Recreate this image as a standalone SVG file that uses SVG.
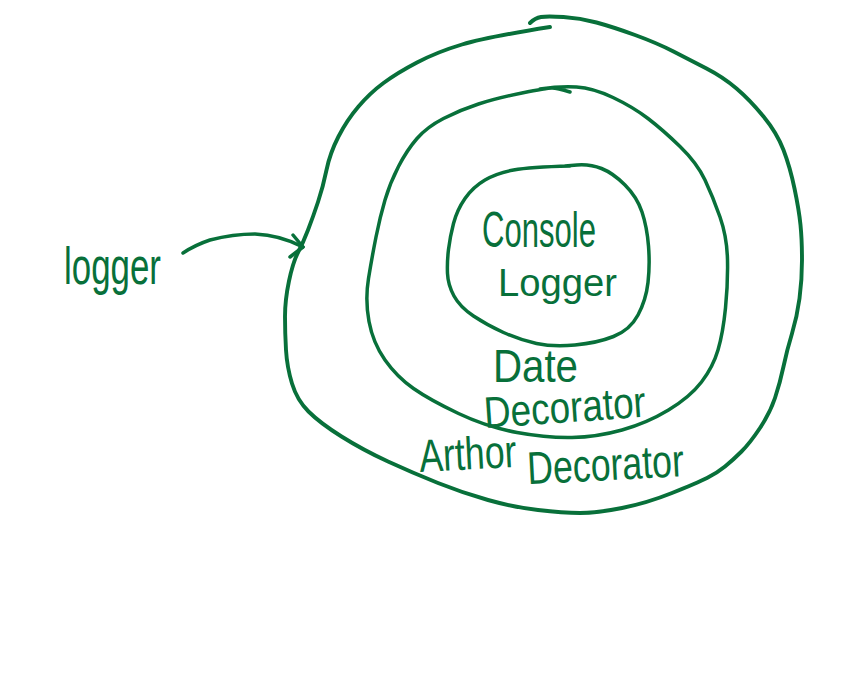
<svg xmlns="http://www.w3.org/2000/svg" width="860" height="675" viewBox="0 0 860 675">
<style>
.ink{fill:none;stroke:#08703a;stroke-width:3.5;stroke-linecap:round;stroke-linejoin:round}
.lbl{fill:#08703a;font-family:"Liberation Sans","DejaVu Sans",sans-serif;font-size:46px}
</style>
<rect width="860" height="675" fill="#ffffff"/>
<g id="author-decorator">
<path class="ink" style="stroke-width:3.9" d="M550,27 Q487,37 462,44.5 Q437,52 417,62.5 Q397,73 383.5,83 Q370,93 358.5,106.5 Q347,120 338.5,136.5 Q330,153 326.5,170 Q323,187 318,202 Q313,217 308,230 Q303,243 298,252.5 Q293,262 289,281 Q285,300 285,316.5 Q285,333 286,350 Q287,367 292,383.5 Q297,400 308.5,411.5 Q320,423 341.5,436.5 Q363,450 388,461.5 Q413,473 438,483 Q463,493 488,500 Q513,507 538,510 Q563,513 580,513 Q597,513 622,508 Q647,503 672,493 Q697,483 707,478 Q717,473 725,466.5 Q733,460 741.5,451.5 Q750,443 760,428 Q770,413 775,398 Q780,383 783.5,366.5 Q787,350 792,333.5 Q797,317 799.5,298.5 Q802,280 802,260 Q802,240 800.5,225 Q799,210 794.5,188.5 Q790,167 783.5,150 Q777,133 763.5,116.5 Q750,100 736.5,88.5 Q723,77 706.5,68.5 Q690,60 673.5,51.5 Q657,43 635,35 Q613,27 596.5,22.5 Q580,18 563.5,17 Q547,16 541,17 Q535,18 530,23"/>
<text class="lbl" x="420" y="472" textLength="264" lengthAdjust="spacingAndGlyphs" transform="rotate(-3 420 472)">Arthor <tspan dy="18">Decorator</tspan></text>
</g>
<g id="date-decorator">
<path class="ink" d="M570,92 Q557,88 552,88 Q547,88 522,93 Q497,98 478.5,104 Q460,110 443.5,118.5 Q427,127 417,138.5 Q407,150 398.5,166.5 Q390,183 385,200 Q380,217 376,237 Q372,257 368.5,278.5 Q365,300 369,321.5 Q373,343 385,360 Q397,377 413.5,388.5 Q430,400 458.5,413.5 Q487,427 517,432.5 Q547,438 572,437.5 Q597,437 622,430 Q647,423 668.5,410 Q690,397 701.5,382 Q713,367 718,350 Q723,333 725.5,308 Q728,283 727.5,260 Q727,237 720,217 Q713,197 705,180 Q697,163 680,146.5 Q663,130 648,118.5 Q633,107 613,97.5 Q593,88 576.5,87 Q560,86 540,89"/>
<text class="lbl" x="493" y="382" textLength="85" lengthAdjust="spacingAndGlyphs">Date</text>
<text class="lbl" x="485" y="428" textLength="162" lengthAdjust="spacingAndGlyphs" transform="rotate(-4 485 428)" style="font-size:44px">Decorator</text>
</g>
<g id="console-logger">
<path class="ink" d="M570,166 Q530,167 513.5,170 Q497,173 485,180 Q473,187 465,198.5 Q457,210 453.5,223.5 Q450,237 448.5,249.5 Q447,262 447.5,273.5 Q448,285 454,296 Q460,307 473.5,316 Q487,325 503.5,332.5 Q520,340 536.5,343.5 Q553,347 575,345 Q597,343 613.5,336.5 Q630,330 638,315 Q646,300 648,282.5 Q650,265 648.5,246 Q647,227 642,212 Q637,197 625,185 Q613,173 601.5,168.5 Q590,164 577,165 L565,166"/>
<text class="lbl" x="482" y="247" textLength="114" lengthAdjust="spacingAndGlyphs" style="font-size:50px">Console</text>
<text class="lbl" x="498" y="296" textLength="119" lengthAdjust="spacingAndGlyphs" style="font-size:39px">Logger</text>
</g>
<g id="logger">
<text class="lbl" x="64" y="284" textLength="97" lengthAdjust="spacingAndGlyphs" style="font-size:52px">logger</text>
</g>
<g id="connectors">
<path class="ink" d="M183,253 Q195,245 210,240 Q233,234 255,234 Q280,235 303,247"/>
<path class="ink" d="M293,235 L303,247 L290,257"/>
</g>
</svg>
